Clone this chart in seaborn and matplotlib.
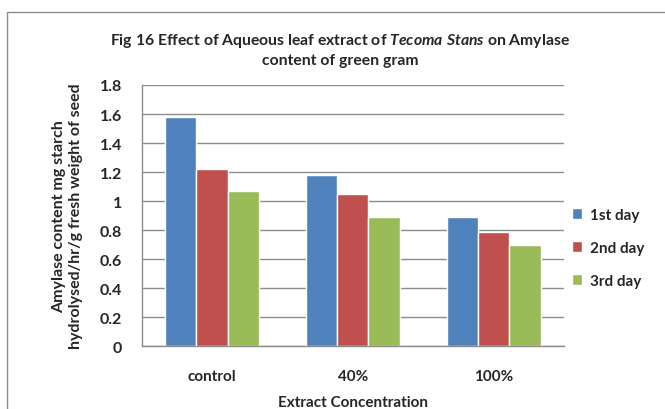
import pandas as pd
import numpy as np
import matplotlib.pyplot as plt
import seaborn as sns
from matplotlib.patches import Rectangle

# Data
concentrations = ['control', '40%', '100%']
days = ['1st day', '2nd day', '3rd day']
day1 = [1.58, 1.18, 0.89]
day2 = [1.22, 1.05, 0.79]
day3 = [1.07, 0.89, 0.70]
colors = ['#4F81BD', '#C0504D', '#9BBB59']
yticks = [0, 0.2, 0.4, 0.6, 0.8, 1, 1.2, 1.4, 1.6, 1.8]
ytick_labels = ['0', '0.2', '0.4', '0.6', '0.8', '1', '1.2', '1.4', '1.6', '1.8']

rows = []
for day, vals in zip(days, [day1, day2, day3]):
    for conc, v in zip(concentrations, vals):
        rows.append({'Concentration': conc, 'Day': day, 'Amylase': v})
df = pd.DataFrame(rows)

sns.set_style('white')
plt.rcParams['font.family'] = ['Lato', 'DejaVu Sans']
plt.rcParams['mathtext.fontset'] = 'custom'
plt.rcParams['mathtext.it'] = 'Lato:italic:bold'
plt.rcParams['mathtext.rm'] = 'Lato:bold'

fig = plt.figure(figsize=(6.65, 4.10), dpi=100)
ax = fig.add_axes([141.7 / 665, 1 - 347.3 / 410, (564 - 141.7) / 665, (347.3 - 86) / 410])

sns.barplot(data=df, x='Concentration', y='Amylase', hue='Day', order=concentrations,
            hue_order=days, palette=colors, saturation=1, width=0.667, ax=ax)

ax.set_ylim(0, 1.8)
ax.set_xlim(-0.5, 2.5)
ax.set_yticks(yticks)
ax.set_yticklabels(ytick_labels, fontsize=11.5, fontweight='bold')
ax.yaxis.grid(True, color='#8c8c8c', linewidth=1)
ax.set_axisbelow(True)

# Excel style category ticks between groups
ax.set_xticks([0, 1, 2])
ax.set_xticklabels(concentrations, fontsize=11, fontweight='bold')
ax.set_xticks([-0.5, 0.5, 1.5, 2.5], minor=True)
ax.tick_params(axis='x', which='major', length=0, pad=16)
ax.tick_params(axis='x', which='minor', length=5, color='#8c8c8c', width=1, direction='out')
ax.tick_params(axis='y', length=5, color='#8c8c8c', width=1, direction='out', pad=9)

for side in ['top', 'right']:
    ax.spines[side].set_visible(False)
for side in ['left', 'bottom']:
    ax.spines[side].set_color('#8c8c8c')
    ax.spines[side].set_linewidth(1)

ax.set_xlabel('Extract Concentration', fontsize=11, fontweight='bold', labelpad=9)
ax.set_ylabel('Amylase content mg starch\nhydrolysed/hr/g fresh weight of seed',
              fontsize=11.5, fontweight='bold', labelpad=12, linespacing=1.25)

fig.text(340 / 665, 1 - 50 / 410,
         'Fig 16 Effect of Aqueous leaf extract of $Tecoma\\ Stans$ on Amylase\ncontent of green gram',
         ha='center', va='center', fontsize=11.3, fontweight='bold', linespacing=1.35)

handles, labels = ax.get_legend_handles_labels()
ax.legend(handles, labels, loc='center left', bbox_to_anchor=(1.0, 0.376), frameon=False,
          prop={'size': 11, 'weight': 'bold'}, handlelength=0.7, handleheight=0.7,
          handletextpad=0.5, labelspacing=1.25, borderaxespad=0.3, borderpad=0.2)

# outer chart border
fig.patches.append(Rectangle((7 / 665, -0.1), 1.1, 1 - 13 / 410 + 0.1, transform=fig.transFigure,
                             fill=False, edgecolor='#8c8c8c', linewidth=1))

fig.savefig('out.png', dpi=100)
